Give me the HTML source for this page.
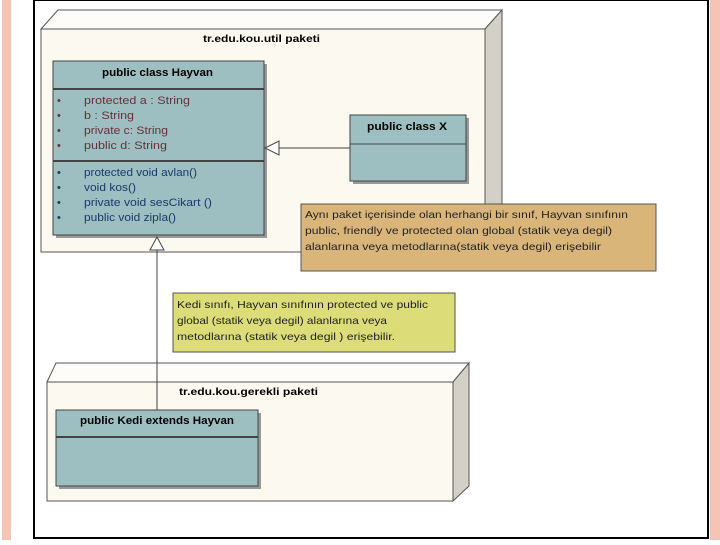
<!DOCTYPE html>
<html><head><meta charset="utf-8"><style>
body{margin:0;width:720px;height:540px;overflow:hidden;background:#fff;font-family:"Liberation Sans",sans-serif}
</style></head><body>
<svg width="720" height="540" viewBox="0 0 720 540" xmlns="http://www.w3.org/2000/svg" font-family="Liberation Sans, sans-serif">
<rect x="0" y="0" width="720" height="540" fill="#fff"/>
<rect x="2" y="0" width="9" height="540" fill="#f6c4b4"/>
<rect x="710" y="0" width="10" height="540" fill="#f6c4b4"/>
<rect x="34" y="0" width="674" height="538" fill="none" stroke="#000" stroke-width="2"/>
<!-- top package -->
<polygon points="41,29 58,10 502,10 485,29" fill="#fdfcf8" stroke="#555" stroke-width="1"/>
<polygon points="485,29 502,10 502,235 485,252" fill="#d4d0c8" stroke="#555" stroke-width="1"/>
<rect x="41" y="29" width="444" height="223" fill="#fcf9f0" stroke="#555" stroke-width="1"/>
<text x="203" y="42" font-size="10.5" font-weight="bold" textLength="117" lengthAdjust="spacingAndGlyphs">tr.edu.kou.util  paketi</text>
<!-- Hayvan -->
<rect x="56" y="64" width="211" height="174" fill="#999"/>
<rect x="53" y="61" width="211" height="174" fill="#9dbfc1" stroke="#444"/>
<line x1="53" y1="89" x2="264" y2="89" stroke="#444" stroke-width="2"/>
<line x1="53" y1="161" x2="264" y2="161" stroke="#444" stroke-width="2"/>
<text x="102" y="76" font-size="11" font-weight="bold" textLength="111" lengthAdjust="spacingAndGlyphs">public class Hayvan</text>
<g font-size="11" fill="#6a3038" lengthAdjust="spacingAndGlyphs">
<text x="57" y="104">•</text><text x="84" y="104" textLength="106" lengthAdjust="spacingAndGlyphs">protected  a :  String</text>
<text x="57" y="119">•</text><text x="84" y="119" textLength="50" lengthAdjust="spacingAndGlyphs">b :  String</text>
<text x="57" y="134">•</text><text x="84" y="134" textLength="84" lengthAdjust="spacingAndGlyphs">private c:  String</text>
<text x="57" y="149">•</text><text x="84" y="149" textLength="83" lengthAdjust="spacingAndGlyphs">public d:  String</text>
</g>
<g font-size="11" fill="#1a3a6a">
<text x="57" y="176">•</text><text x="84" y="176" textLength="113" lengthAdjust="spacingAndGlyphs">protected void avlan()</text>
<text x="57" y="191">•</text><text x="84" y="191" textLength="52" lengthAdjust="spacingAndGlyphs">void kos()</text>
<text x="57" y="206">•</text><text x="84" y="206" textLength="128" lengthAdjust="spacingAndGlyphs">private void sesCikart ()</text>
<text x="57" y="221">•</text><text x="84" y="221" textLength="92" lengthAdjust="spacingAndGlyphs">public void zipla()</text>
</g>
<!-- class X -->
<rect x="353" y="118" width="116" height="66" fill="#999"/>
<rect x="350" y="115" width="116" height="66" fill="#9dbfc1" stroke="#444"/>
<line x1="350" y1="144" x2="466" y2="144" stroke="#444"/>
<text x="367" y="130" font-size="11" font-weight="bold" textLength="80" lengthAdjust="spacingAndGlyphs">public class X</text>
<line x1="279" y1="148" x2="350" y2="148" stroke="#444"/>
<polygon points="265,148 279,141 279,155" fill="#fff" stroke="#444"/>
<!-- orange note -->
<rect x="301" y="204" width="355" height="67" fill="#d9b57a" stroke="#555"/>
<g font-size="10.5" fill="#222">
<text x="305" y="218" textLength="323" lengthAdjust="spacingAndGlyphs">Aynı paket içerisinde olan herhangi bir sınıf, Hayvan sınıfının</text>
<text x="305" y="234" textLength="307" lengthAdjust="spacingAndGlyphs">public, friendly ve protected olan global (statik veya degil)</text>
<text x="305" y="250" textLength="296" lengthAdjust="spacingAndGlyphs">alanlarına veya metodlarına(statik veya degil) erişebilir</text>
</g>
<!-- vertical generalization -->
<line x1="157" y1="250" x2="157" y2="410" stroke="#444"/>
<polygon points="157,237 150,250 164,250" fill="#fff" stroke="#444"/>
<!-- green note -->
<rect x="173" y="293" width="282" height="59" fill="#dcdc78" stroke="#555"/>
<g font-size="10.5" fill="#222">
<text x="177" y="308" textLength="251" lengthAdjust="spacingAndGlyphs">Kedi sınıfı,  Hayvan sınıfının protected ve public</text>
<text x="177" y="324" textLength="210" lengthAdjust="spacingAndGlyphs">global (statik veya degil) alanlarına veya</text>
<text x="177" y="340" textLength="218" lengthAdjust="spacingAndGlyphs">metodlarına (statik veya degil ) erişebilir.</text>
</g>
<!-- bottom package -->
<polygon points="47,382 56,363 469,363 453,382" fill="#fdfcf8" stroke="#555"/>
<polygon points="453,382 469,363 469,486 453,501" fill="#d4d0c8" stroke="#555"/>
<rect x="47" y="382" width="406" height="119" fill="#fcf9f0" stroke="#555"/>
<line x1="157" y1="352" x2="157" y2="410" stroke="#444"/>
<text x="179" y="395" font-size="10.5" font-weight="bold" textLength="139" lengthAdjust="spacingAndGlyphs">tr.edu.kou.gerekli  paketi</text>
<rect x="59" y="413" width="202" height="76" fill="#999"/>
<rect x="56" y="410" width="202" height="76" fill="#9dbfc1" stroke="#444"/>
<line x1="56" y1="437" x2="258" y2="437" stroke="#444" stroke-width="2"/>
<text x="80" y="424" font-size="11" font-weight="bold" textLength="154" lengthAdjust="spacingAndGlyphs">public Kedi extends Hayvan</text>
</svg>
</body></html>
